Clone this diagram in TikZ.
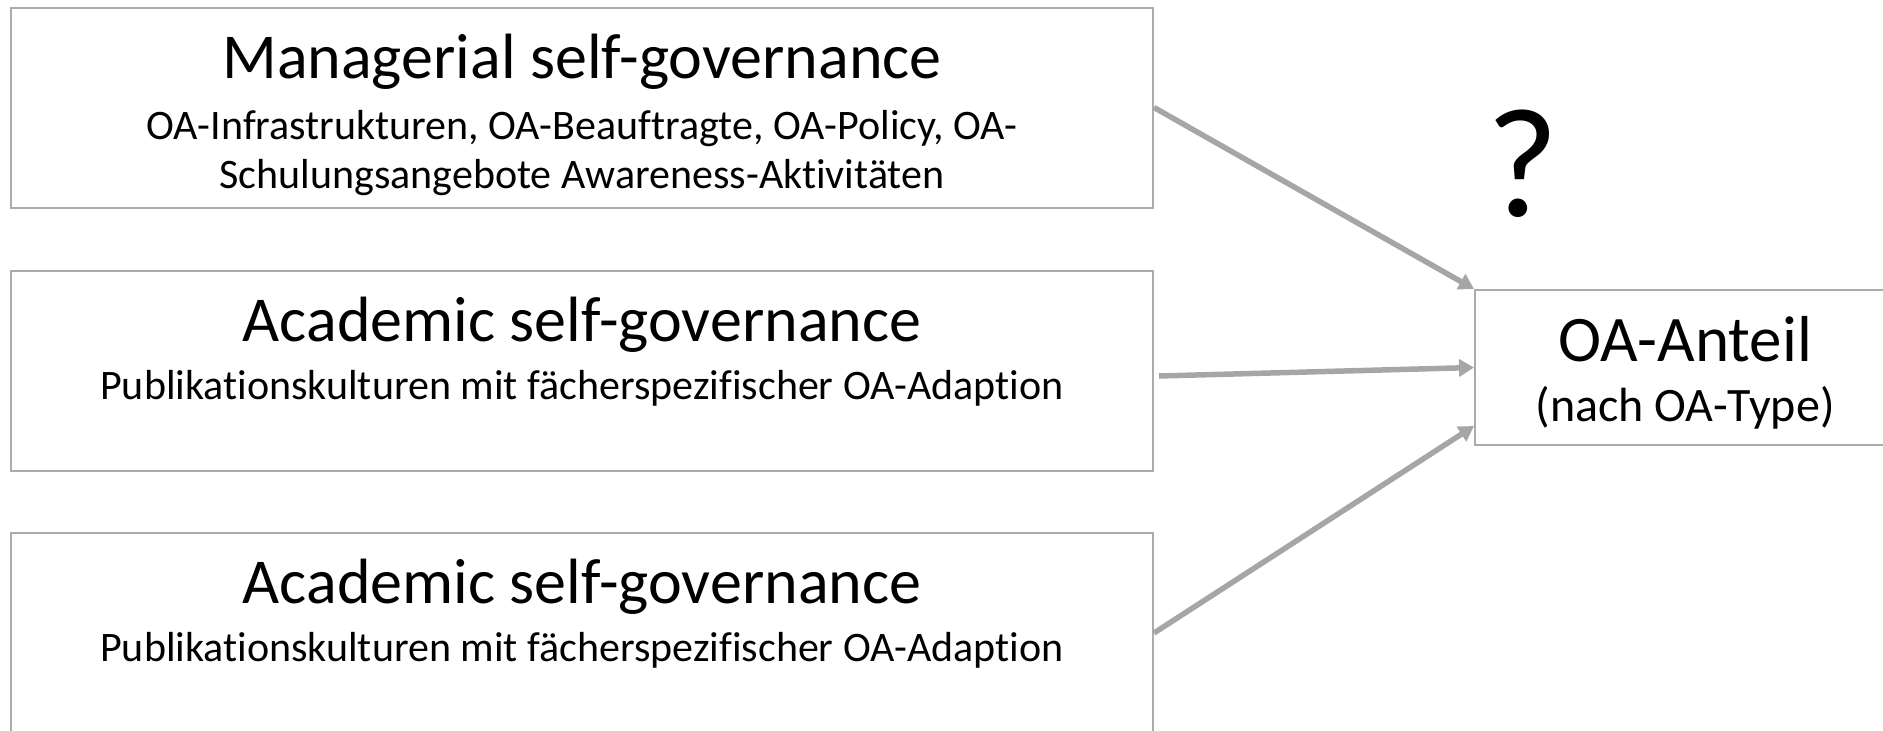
\documentclass[tikz,border=0pt]{standalone}
\usepackage{fontspec}
\setmainfont{Carlito}[Ligatures=NoCommon]
\usepackage{xcolor}
\usetikzlibrary{arrows.meta,positioning}

\definecolor{boxgray}{HTML}{ABABAB}
\definecolor{arrowgray}{HTML}{A6A6A6}

\tikzset{
  factor/.style={draw=boxgray, line width=2pt, minimum width=1142pt, minimum height=200pt, inner sep=0pt},
  target/.style={draw=boxgray, line width=2pt, minimum width=420pt, minimum height=155pt, inner sep=0pt},
  head/.style={anchor=base, inner sep=0pt, font=\fontsize{64}{72}\selectfont},
  sub/.style={anchor=base, inner sep=0pt, align=center, font=\fontsize{42}{49}\selectfont},
  link/.style={draw=arrowgray, line width=5.5pt, -{Triangle[length=15pt,width=17pt]}}
}

\begin{document}
\begin{tikzpicture}[x=1pt,y=-1pt]
  \useasboundingbox (0,0) rectangle (1883,731);

  % Draw the three governance boxes
  \node[factor] (mgmt) at (582,107.5) {};
  \node[factor] (acad) at (582,371) {};
  \node[factor] (cult) at (582,633) {};

  % Draw the target box
  \node[target] (oa) at (1685,367.5) {};

  % Box texts
  \node[head] (mgmthead) at ([yshift=-72pt]mgmt.north) {Managerial self-governance};
  \node[sub] (mgmtsub1) at ([yshift=-133pt]mgmt.north) {OA-Infrastrukturen, OA-Beauftragte, OA-Policy, OA-};
  \node[sub] (mgmtsub2) at ([yshift=-182pt]mgmt.north) {Schulungsangebote Awareness-Aktivitäten};
  \node[head] (acadhead) at ([yshift=-71pt]acad.north) {Academic self-governance};
  \node[sub] (acadsub) at ([yshift=-129pt]acad.north) {Publikationskulturen mit fächerspezifischer OA-Adaption};
  \node[head] (culthead) at ([yshift=-71pt]cult.north) {Academic self-governance};
  \node[sub] (cultsub) at ([yshift=-129pt]cult.north) {Publikationskulturen mit fächerspezifischer OA-Adaption};

  \node[head, font=\fontsize{65}{72}\selectfont] (oahead) at (1685,361) {OA-Anteil};
  \node[sub, font=\fontsize{48}{54}\selectfont] (oasub) at (1685,421) {(nach OA-Type)};

  % Draw the question mark
  \node[anchor=base, inner sep=0pt, font=\fontsize{156}{160}\selectfont] (ask) at (1523,216) {?};

  % Draw the arrows
  \draw[link] (mgmt.east) -- (oa.north west);
  \draw[link] ([shift={(5pt,-5pt)}]acad.east) -- (oa.west);
  \draw[link] (cult.east) -- ([yshift=20pt]oa.south west);
\end{tikzpicture}
\end{document}
